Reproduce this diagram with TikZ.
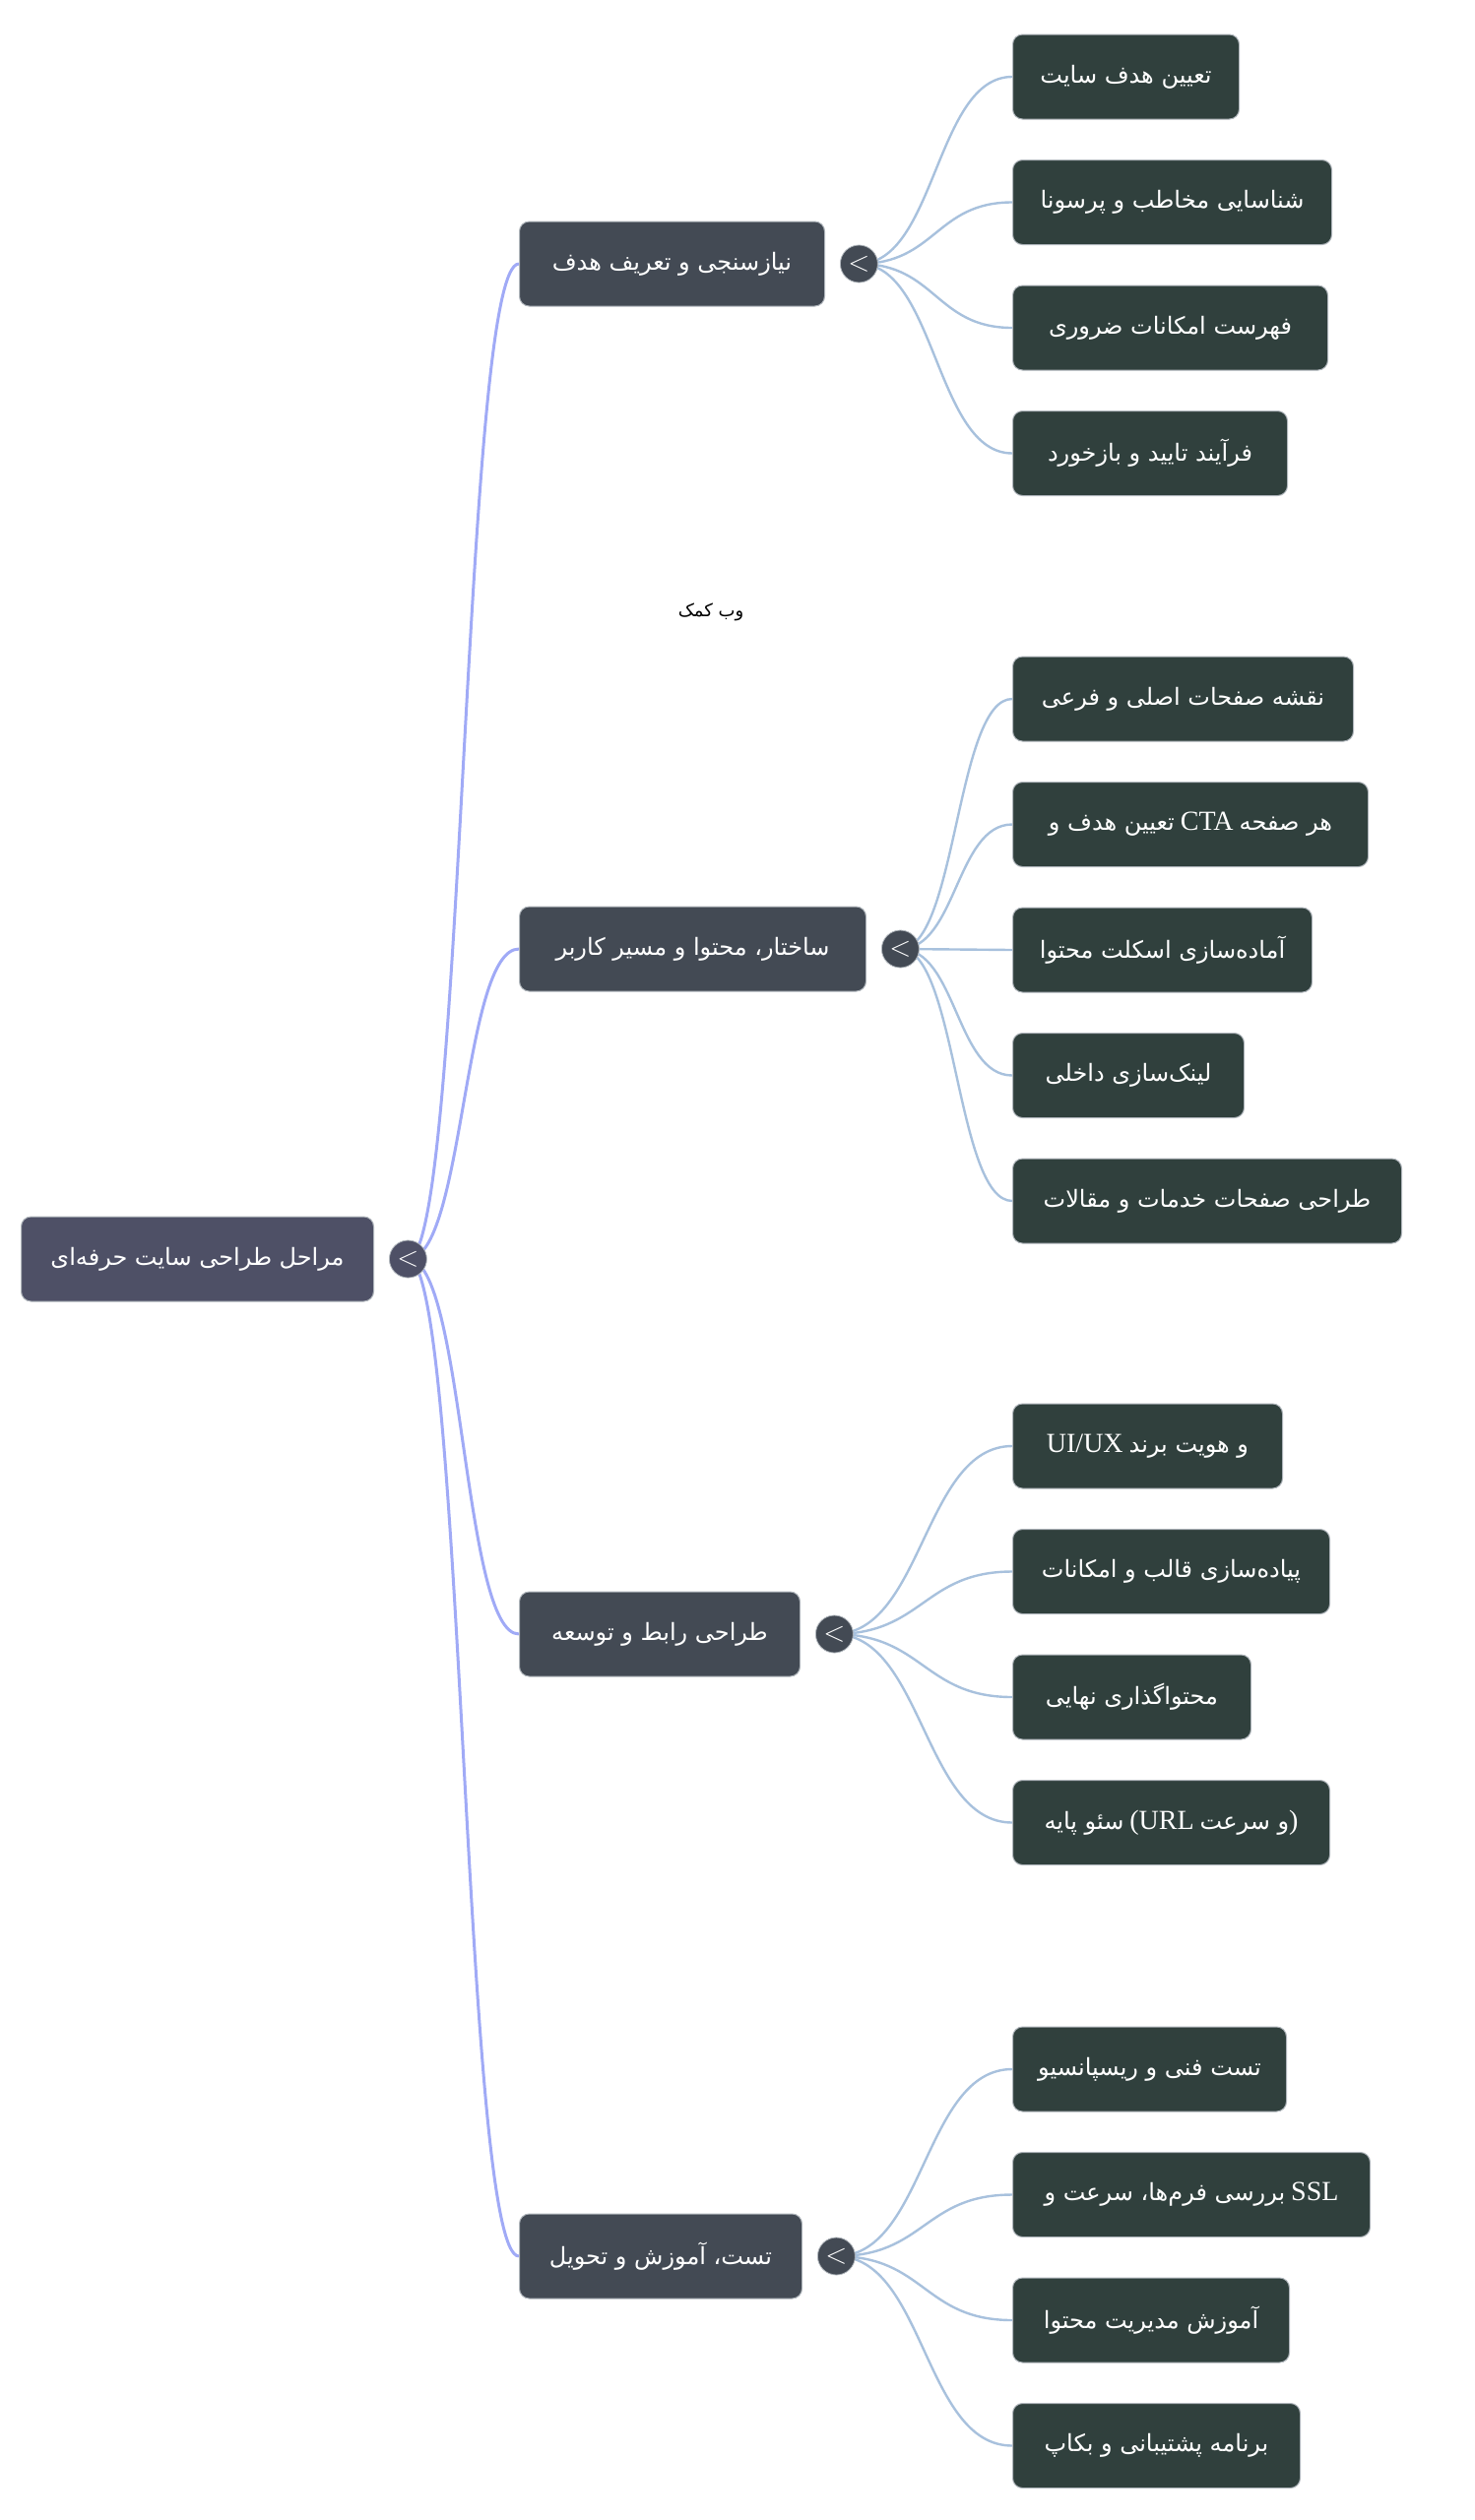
\documentclass[tikz,border=0pt]{standalone}
\usepackage{fontspec}
\setmainfont{Liberation Serif}
\newfontfamily\fafont[Script=Arabic]{DejaVu Sans}
\TeXXeTstate=1
\usetikzlibrary{positioning,backgrounds}
\definecolor{rootfill}{RGB}{78,80,102}
\definecolor{topicfill}{RGB}{67,74,84}
\definecolor{leaffill}{RGB}{48,64,61}
\definecolor{boxline}{RGB}{176,182,188}
\definecolor{mainblue}{RGB}{160,170,246}
\definecolor{subblue}{RGB}{168,193,221}
\newcommand{\fatext}[1]{{\fafont\beginR #1\endR}}
\newcommand{\lat}[1]{{\fontsize{14}{14}\selectfont #1}}

\begin{document}
\begin{tikzpicture}[
    x=0.5pt, y=-0.5pt, % 1 像素 = 0.5pt
    node distance=20.25pt, % 叶节点间距
    box/.style={rectangle, draw=boxline, line width=0.5pt, rounded corners=5pt, text=white, minimum height=43pt, inner xsep=12pt, font=\fontsize{12}{14}\selectfont},
    rootbox/.style={box, fill=rootfill},
    topic/.style={box, fill=topicfill},
    leaf/.style={box, fill=leaffill},
    toggle/.style={circle, draw=boxline, line width=0.4pt, text=white, minimum size=19pt, inner sep=0pt, font=\Large},
    mainlink/.style={draw=mainblue, line width=1.5pt},
    sublink/.style={draw=subblue, line width=1.2pt}
]
\useasboundingbox (0,0) rectangle (1498,2560);

% 根节点
\node (root) [rootbox, minimum width=179pt, anchor=west] at (21,1279) {\fatext{مراحل طراحی سایت حرفه‌ای}};
\node (roottog) [toggle, fill=rootfill, right=7.5pt of root] {$<$};

% 一级节点
\node (need) [topic, minimum width=155pt, anchor=west] at (527,268) {\fatext{نیازسنجی و تعریف هدف}};
\node (struct) [topic, minimum width=176pt, anchor=west] at (527,964) {\fatext{ساختار، محتوا و مسیر کاربر}};
\node (dev) [topic, minimum width=142.5pt, anchor=west] at (527,1660) {\fatext{طراحی رابط و توسعه}};
\node (deliver) [topic, minimum width=143.5pt, anchor=west] at (527,2292) {\fatext{تست، آموزش و تحویل}};
\node (needtog) [toggle, fill=topicfill, right=7.5pt of need] {$<$};
\node (structtog) [toggle, fill=topicfill, right=7.5pt of struct] {$<$};
\node (devtog) [toggle, fill=topicfill, right=7.5pt of dev] {$<$};
\node (delivertog) [toggle, fill=topicfill, right=7.5pt of deliver] {$<$};

% 水印
\node (mark) at (722,622) {\fontsize{9}{10}\selectfont\fatext{وب کمک}};

% 叶节点
\node (goal) [leaf, minimum width=115pt, anchor=west] at (1028,78) {\fatext{تعیین هدف سایت}};
\node (persona) [leaf, minimum width=162pt, below=of goal.south west, anchor=north west] {\fatext{شناسایی مخاطب و پرسونا}};
\node (features) [leaf, minimum width=160pt, below=of persona.south west, anchor=north west] {\fatext{فهرست امکانات ضروری}};
\node (approval) [leaf, minimum width=139.5pt, below=of features.south west, anchor=north west] {\fatext{فرآیند تایید و بازخورد}};

\node (sitemap) [leaf, minimum width=173pt, anchor=west] at (1028,710) {\fatext{نقشه صفحات اصلی و فرعی}};
\node (cta) [leaf, minimum width=180.5pt, below=of sitemap.south west, anchor=north west] {\fatext{تعیین هدف و} \lat{CTA} \fatext{هر صفحه}};
\node (skeleton) [leaf, minimum width=152pt, below=of cta.south west, anchor=north west] {\fatext{آماده‌سازی اسکلت محتوا}};
\node (linking) [leaf, minimum width=117.5pt, below=of skeleton.south west, anchor=north west] {\fatext{لینک‌سازی داخلی}};
\node (pages) [leaf, minimum width=197.5pt, below=of linking.south west, anchor=north west] {\fatext{طراحی صفحات خدمات و مقالات}};

\node (uiux) [leaf, minimum width=137pt, anchor=west] at (1028,1469) {\lat{UI/UX} \fatext{و هویت برند}};
\node (theme) [leaf, minimum width=161pt, below=of uiux.south west, anchor=north west] {\fatext{پیاده‌سازی قالب و امکانات}};
\node (content) [leaf, minimum width=121pt, below=of theme.south west, anchor=north west] {\fatext{محتواگذاری نهایی}};
\node (seo) [leaf, minimum width=161pt, below=of content.south west, anchor=north west] {\fatext{سئو پایه} \lat{(URL} \fatext{و سرعت}\lat{)}};

\node (test) [leaf, minimum width=139pt, anchor=west] at (1028,2102) {\fatext{تست فنی و ریسپانسیو}};
\node (ssl) [leaf, minimum width=181.5pt, below=of test.south west, anchor=north west] {\fatext{بررسی فرم‌ها، سرعت و} \lat{SSL}};
\node (training) [leaf, minimum width=140.5pt, below=of ssl.south west, anchor=north west] {\fatext{آموزش مدیریت محتوا}};
\node (backup) [leaf, minimum width=146pt, below=of training.south west, anchor=north west] {\fatext{برنامه پشتیبانی و بکاپ}};

% 连接线
\begin{scope}[on background layer]
\draw[mainlink] (roottog.center) .. controls +(57,0) and +(-57,0) .. (need.west);
\draw[mainlink] (roottog.center) .. controls +(57,0) and +(-57,0) .. (struct.west);
\draw[mainlink] (roottog.center) .. controls +(57,0) and +(-57,0) .. (dev.west);
\draw[mainlink] (roottog.center) .. controls +(57,0) and +(-57,0) .. (deliver.west);

\draw[sublink] (needtog.center) .. controls +(78,0) and +(-78,0) .. (goal.west);
\draw[sublink] (needtog.center) .. controls +(78,0) and +(-78,0) .. (persona.west);
\draw[sublink] (needtog.center) .. controls +(78,0) and +(-78,0) .. (features.west);
\draw[sublink] (needtog.center) .. controls +(78,0) and +(-78,0) .. (approval.west);

\draw[sublink] (structtog.center) .. controls +(57,0) and +(-57,0) .. (sitemap.west);
\draw[sublink] (structtog.center) .. controls +(57,0) and +(-57,0) .. (cta.west);
\draw[sublink] (structtog.center) .. controls +(57,0) and +(-57,0) .. (skeleton.west);
\draw[sublink] (structtog.center) .. controls +(57,0) and +(-57,0) .. (linking.west);
\draw[sublink] (structtog.center) .. controls +(57,0) and +(-57,0) .. (pages.west);

\draw[sublink] (devtog.center) .. controls +(90,0) and +(-90,0) .. (uiux.west);
\draw[sublink] (devtog.center) .. controls +(90,0) and +(-90,0) .. (theme.west);
\draw[sublink] (devtog.center) .. controls +(90,0) and +(-90,0) .. (content.west);
\draw[sublink] (devtog.center) .. controls +(90,0) and +(-90,0) .. (seo.west);

\draw[sublink] (delivertog.center) .. controls +(90,0) and +(-90,0) .. (test.west);
\draw[sublink] (delivertog.center) .. controls +(90,0) and +(-90,0) .. (ssl.west);
\draw[sublink] (delivertog.center) .. controls +(90,0) and +(-90,0) .. (training.west);
\draw[sublink] (delivertog.center) .. controls +(90,0) and +(-90,0) .. (backup.west);
\end{scope}

\end{tikzpicture}
\end{document}
